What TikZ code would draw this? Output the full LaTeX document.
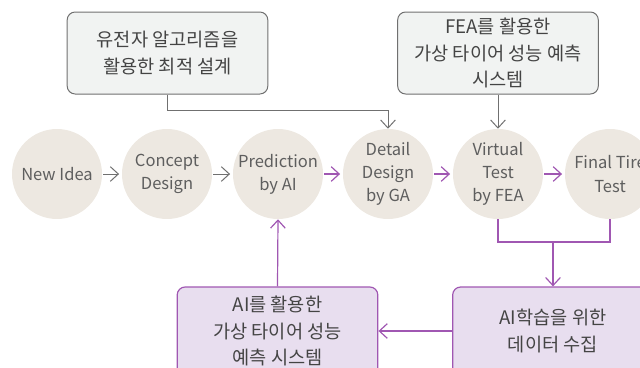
\documentclass[tikz,border=0pt]{standalone}
\usepackage{fontspec}
\setmainfont{Noto Sans CJK KR}
\usetikzlibrary{arrows.meta}
\definecolor{circfill}{HTML}{EDE8E1}
\definecolor{txt}{HTML}{444444}
\definecolor{ctxt}{HTML}{5E5E5E}
\definecolor{grayline}{HTML}{707070}
\definecolor{grayfill}{HTML}{F1F3F2}
\definecolor{purpline}{HTML}{A057B2}
\definecolor{purpfill}{HTML}{E8DEEF}
\tikzset{
  stage/.style={circle, fill=circfill, draw=none, minimum size=67.5pt, inner sep=0pt, align=center, text=ctxt, font=\fontsize{12.4}{17.4}\selectfont},
  graybox/.style={rounded corners=6pt, draw=grayline, fill=grayfill, line width=0.75pt, minimum width=150.5pt, minimum height=61.5pt, align=center, text=txt, font=\fontsize{14}{20}\selectfont},
  purpbox/.style={rounded corners=6pt, draw=purpline, fill=purpfill, line width=0.9pt, minimum width=150.5pt, minimum height=66pt, align=center, text=txt, font=\fontsize{14}{20}\selectfont},
  garrow/.style={draw=grayline, line width=0.75pt, -{Straight Barb[length=6pt,width=11pt]}},
  parrow/.style={draw=purpline, line width=0.9pt, -{Straight Barb[length=6pt,width=11pt]}},
  pline/.style={draw=purpline, line width=0.9pt},
  gline/.style={draw=grayline, line width=0.75pt},
}
\begin{document}
\begin{tikzpicture}[x=0.75pt,y=-0.75pt]
\useasboundingbox (0,0) rectangle (640,368);
\clip (0,0) rectangle (640,368);
\node[stage] (idea) at (57,174) {New Idea};
\node[stage] (concept) at (167,174) {Concept\\Design};
\node[stage] (pred) at (278,174) {Prediction\\by AI};
\node[stage] (detail) at (388,174) {Detail\\Design\\by GA};
\node[stage] (virtual) at (498,174) {Virtual\\Test\\by FEA};
\node[stage] (final) at (610,174) {Final Tire\\Test};

\node[graybox] (ga) at (167.5,53) {유전자 알고리즘을\\활용한 최적 설계};
\node[graybox] (fea) at (498,53) {FEA를 활용한\\가상 타이어 성능 예측\\시스템};

\node[purpbox] (aisys) at (277.5,331) {AI를 활용한\\가상 타이어 성능\\예측 시스템};
\node[purpbox] (data) at (553,331) {AI학습을 위한\\데이터 수집};

\draw[garrow] (idea.east) ++(1,0) -- ([xshift=-2pt]concept.west);
\draw[garrow] (concept.east) ++(1,0) -- ([xshift=-2pt]pred.west);
\draw[parrow] (pred.east) ++(1,0) -- ([xshift=-2pt]detail.west);
\draw[parrow] (detail.east) ++(1,0) -- ([xshift=-2pt]virtual.west);
\draw[parrow] (virtual.east) ++(1,0) -- ([xshift=-2pt]final.west);

\coordinate (gaBend) at (ga.south |- 0,110);
\draw[garrow] (ga.south) -- (gaBend) -| (detail.north);
\draw[garrow] (fea.south) -- (virtual.north);

\coordinate (vBend) at (virtual.south |- 0,242);
\coordinate (fBend) at (final.south |- 0,242);
\coordinate (mid) at (553,242);
\draw[pline] (virtual.south) -- (vBend) -- (fBend) -- (final.south);
\draw[parrow] (mid) -- (data.north);
\draw[parrow] (data.west) -- (aisys.east);
\draw[parrow] (aisys.north) -- (pred.south);
\end{tikzpicture}
\end{document}
